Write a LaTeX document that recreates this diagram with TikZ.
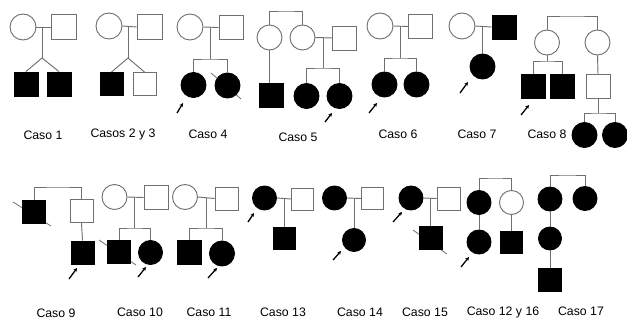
\documentclass[tikz,border=0pt]{standalone}
\usepackage{fontspec}
\setmainfont{Liberation Sans}
\usetikzlibrary{arrows.meta}
\definecolor{lc}{HTML}{707070}
\tikzset{
  fem/.style={circle,draw=lc,fill=white,line width=0.8pt,minimum size=#1*0.03cm,inner sep=0pt},
  fem/.default=25,
  male/.style={rectangle,draw=lc,fill=white,line width=0.8pt,minimum size=#1*0.03cm,inner sep=0pt},
  male/.default=24,
  aff/.style={fill=black,draw=black},
  ln/.style={draw=lc,line width=0.8pt},
  slash/.style={draw=lc,line width=0.7pt},
  arr/.style={draw=black,line width=1.1pt,-{Stealth[length=3.2pt,width=3.2pt]}},
  lab/.style={font=\fontsize{10.5}{12}\selectfont,inner sep=0pt}
}
\begin{document}
\begin{tikzpicture}[x=0.03cm,y=-0.03cm]
\useasboundingbox[fill=white] (0,0) rectangle (627,320);

% ---------- Caso 1
\node[fem=26] (c1m) at (23,27) {};
\node[male=25] (c1f) at (63.5,27) {};
\node[male,aff] (c1a) at (26,84) {};
\node[male,aff] (c1b) at (59,84) {};
\coordinate (c1j) at (42,27);
\coordinate (c1t) at (42,58);
\draw[ln] (c1m.east) -- (c1f.west);
\draw[ln] (c1j) -- (c1t);
\draw[ln] (c1t) -- (c1a.north);
\draw[ln] (c1t) -- (c1b.north);
\node[lab] (l1) at (43,135) {Caso 1};

% ---------- Casos 2 y 3
\node[fem=26] (c2m) at (109,26) {};
\node[male=25] (c2f) at (149.5,27) {};
\node[male=23,aff] (c2a) at (111.5,84) {};
\node[male=23] (c2b) at (144.5,84) {};
\coordinate (c2j) at (128,27);
\coordinate (c2t) at (128,58);
\draw[ln] (c2m.east) -- (c2f.west);
\draw[ln] (c2j) -- (c2t);
\draw[ln] (c2t) -- (c2a.north);
\draw[ln] (c2t) -- (c2b.north);
\node[lab] (l2) at (123,134) {Casos 2 y 3};

% ---------- Caso 4
\node[fem=26] (c4m) at (190,27) {};
\node[male=24] (c4f) at (231,27.5) {};
\node[fem=25,aff] (c4a) at (193.5,85) {};
\draw[slash] (211,73) -- (241,99);
\node[fem=25,aff] (c4b) at (227.5,85.5) {};
\coordinate (c4j) at (210,27);
\coordinate (c4t) at (210,59);
\draw[ln] (c4m.east) -- (c4f.west);
\draw[ln] (c4j) -- (c4t);
\draw[ln] (c4a.north) |- (c4t) -| (c4b.north);
\draw[arr] (177,113) -- (183,103);
\node[lab] (l4) at (208,134) {Caso 4};

% ---------- Caso 5
\node[fem=25] (c5g1) at (269.5,37.5) {};
\node[fem=25] (c5g2) at (302.5,37.5) {};
\node[male=24] (c5f) at (344.5,38) {};
\node[male=24,aff] (c5s) at (271,95) {};
\node[fem=25,aff] (c5a) at (306.5,96) {};
\node[fem=25,aff] (c5b) at (339.5,96) {};
\coordinate (c5top) at (286,11);
\coordinate (c5j) at (323,37.5);
\coordinate (c5t) at (323,68);
\draw[ln] (c5g1.north) |- (c5top) -| (c5g2.north);
\draw[ln] (c5g2.east) -- (c5f.west);
\draw[ln] (c5g1.south) -- (c5g1.south |- c5s.north);
\draw[ln] (c5j) -- (c5t);
\draw[ln] (c5a.north) |- (c5t) -| (c5b.north);
\draw[arr] (325,122) -- (332,113);
\node[lab] (l5) at (298,137) {Caso 5};

% ---------- Caso 6
\node[fem=26] (c6m) at (380,26) {};
\node[male=24] (c6f) at (420.5,26.5) {};
\node[fem=25,aff] (c6a) at (384.5,84.5) {};
\node[fem=25,aff] (c6b) at (416.5,84.5) {};
\coordinate (c6j) at (400,26.5);
\coordinate (c6t) at (400,58);
\draw[ln] (c6m.east) -- (c6f.west);
\draw[ln] (c6j) -- (c6t);
\draw[ln] (c6a.north) |- (c6t) -| (c6b.north);
\draw[arr] (369,113) -- (377,103);
\node[lab] (l6) at (398,134) {Caso 6};

% ---------- Caso 7
\node[fem=26] (c7m) at (462,26) {};
\node[male=24,aff] (c7f) at (504,27) {};
\node[fem=25,aff] (c7a) at (482.5,66.5) {};
\coordinate (c7j) at (482.5,27);
\draw[ln] (c7m.east) -- (c7f.west);
\draw[ln] (c7j) -- (c7a.north);
\draw[arr] (460,93) -- (468,82);
\node[lab] (l7) at (477,134) {Caso 7};

% ---------- Caso 8
\node[fem=25] (c8g1) at (547,42.5) {};
\node[fem=25] (c8g2) at (597.5,42.5) {};
\node[male=24,aff] (c8a) at (533,86) {};
\node[male=24,aff] (c8b) at (562,86) {};
\node[male=24] (c8c) at (598,86.5) {};
\node[fem=25,aff] (c8d) at (584.5,135) {};
\node[fem=25,aff] (c8e) at (615,135) {};
\coordinate (c8top) at (572,16);
\coordinate (c8t) at (547,61);
\coordinate (c8u) at (598,113);
\draw[ln] (c8g1.north) |- (c8top) -| (c8g2.north);
\draw[ln] (c8g1.south) -- (c8t);
\draw[ln] (c8a.north) |- (c8t) -| (c8b.north);
\draw[ln] (c8g2.south) -- (c8c.north);
\draw[ln] (c8c.south) -- (c8u);
\draw[ln] (c8d.north) |- (c8u) -| (c8e.north);
\draw[arr] (521,115) -- (529,105);
\node[lab] (l8) at (547,134) {Caso 8};

% ---------- Caso 9
\draw[slash] (13,202) -- (51,226);
\node[male=23,aff] (c9g1) at (34,212) {};
\node[male=23] (c9g2) at (81.5,211) {};
\node[male=23,aff] (c9a) at (82.5,252.5) {};
\coordinate (c9top) at (58,187);
\draw[ln] (c9g1.north) |- (c9top) -| (c9g2.north);
\draw[ln] (c9g2.south) -- (c9a.north);
\draw[arr] (69,279) -- (77,268);
\node[lab] (l9) at (56,313) {Caso 9};

% ---------- Caso 10
\node[fem=25] (c10m) at (114.5,197) {};
\node[male=24] (c10f) at (156,197.5) {};
\draw[slash] (99,240) -- (136,265);
\node[male=23,aff] (c10a) at (119,252) {};
\node[fem=24,aff] (c10b) at (150.5,252.5) {};
\coordinate (c10j) at (134,197.5);
\coordinate (c10t) at (134,228);
\draw[ln] (c10m.east) -- (c10f.west);
\draw[ln] (c10j) -- (c10t);
\draw[ln] (c10a.north) |- (c10t) -| (c10b.north);
\draw[arr] (138,277) -- (146,267);
\node[lab] (l10) at (140,312) {Caso 10};

% ---------- Caso 11
\node[fem=25] (c11m) at (185,197) {};
\node[male=23] (c11f) at (226.5,198.5) {};
\node[male=24,aff] (c11a) at (189.5,252.5) {};
\node[fem=25,aff] (c11b) at (222,253.5) {};
\coordinate (c11j) at (206,198);
\coordinate (c11t) at (206,228);
\draw[ln] (c11m.east) -- (c11f.west);
\draw[ln] (c11j) -- (c11t);
\draw[ln] (c11a.north) |- (c11t) -| (c11b.north);
\draw[arr] (208,278) -- (217,268);
\node[lab] (l11) at (209,312) {Caso 11};

% ---------- Caso 13
\node[fem=24,aff] (c13m) at (264.5,198) {};
\node[male=22] (c13f) at (302.5,199) {};
\node[male=22,aff] (c13a) at (284.5,238.5) {};
\coordinate (c13j) at (284.5,198.5);
\draw[ln] (c13m.east) -- (c13f.west);
\draw[ln] (c13j) -- (c13a.north);
\draw[arr] (248,222) -- (254,213);
\node[lab] (l13) at (283,312) {Caso 13};

% ---------- Caso 14
\node[fem=24,aff] (c14m) at (334.5,198) {};
\node[male=22] (c14f) at (372.5,198.5) {};
\node[fem=23,aff] (c14a) at (354,240) {};
\coordinate (c14j) at (354,198.5);
\draw[ln] (c14m.east) -- (c14f.west);
\draw[ln] (c14j) -- (c14a.north);
\draw[arr] (333,260) -- (341,251);
\node[lab] (l14) at (360,312) {Caso 14};

% ---------- Caso 15
\node[fem=24,aff] (c15m) at (411,198) {};
\node[male=23] (c15f) at (448.5,198.5) {};
\draw[slash] (413,230) -- (447,254);
\node[male=23,aff] (c15a) at (430.5,238) {};
\coordinate (c15j) at (430.5,198.5);
\draw[ln] (c15m.east) -- (c15f.west);
\draw[ln] (c15j) -- (c15a.north);
\draw[arr] (393,222) -- (402,212);
\node[lab] (l15) at (425,312.5) {Caso 15};

% ---------- Caso 12 y 16
\node[fem=24,aff] (c12g1) at (479,202.5) {};
\node[fem=24] (c12g2) at (511.5,202.5) {};
\node[fem=24,aff] (c12a) at (479,242) {};
\node[male=22,aff] (c12b) at (511.5,242.5) {};
\coordinate (c12top) at (495,178);
\draw[ln] (c12g1.north) |- (c12top) -| (c12g2.north);
\draw[ln] (c12g1.south) -- (c12a.north);
\draw[ln] (c12g2.south) -- (c12b.north);
\draw[arr] (461,267) -- (469,257);
\node[lab] (l12) at (503,312) {Caso 12 y 16};

% ---------- Caso 17
\node[fem=24,aff] (c17g1) at (550,199) {};
\node[fem=24,aff] (c17g2) at (585,198.5) {};
\node[fem=23,aff] (c17a) at (550,238.5) {};
\node[male=23,aff] (c17b) at (550,279.5) {};
\coordinate (c17top) at (567,175);
\draw[ln] (c17g1.north) |- (c17top) -| (c17g2.north);
\draw[ln] (c17g1.south) -- (c17a.north);
\draw[ln] (c17a.south) -- (c17b.north);
\node[lab] (l17) at (581,311) {Caso 17};

\end{tikzpicture}
\end{document}
